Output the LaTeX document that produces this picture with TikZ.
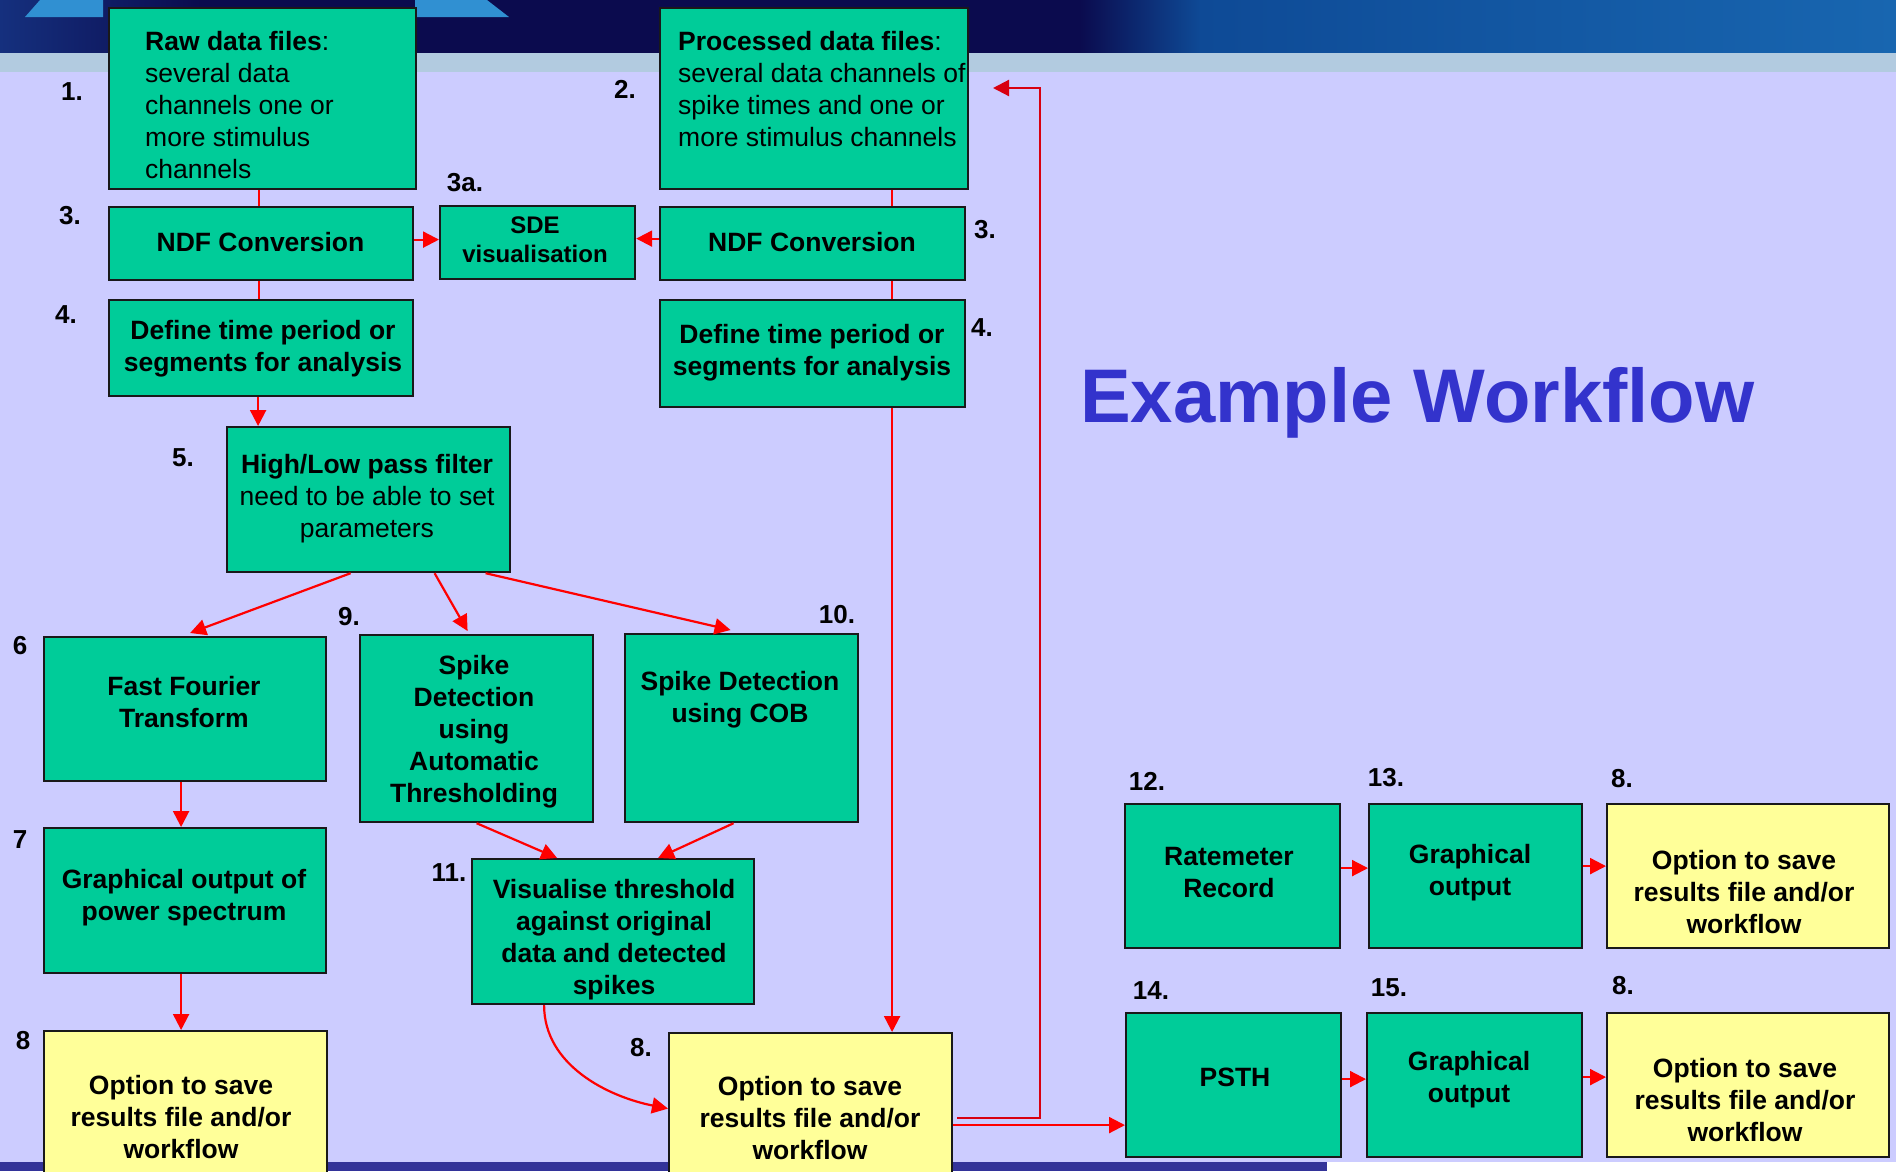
\documentclass[tikz,border=0pt]{standalone}
\usepackage{fontspec}
\setmainfont{Liberation Sans}
\usetikzlibrary{arrows.meta}
\definecolor{lav}{HTML}{CCCCFF}
\definecolor{boxgreen}{HTML}{00CC99}
\definecolor{boxyellow}{HTML}{FFFF99}
\definecolor{titleblue}{HTML}{3333CC}
\definecolor{bandblue}{HTML}{333399}
\definecolor{arrred}{HTML}{FF0000}
\definecolor{fbred}{HTML}{D80010}
\definecolor{banA}{HTML}{15307E}
\definecolor{banB}{HTML}{0B0B4E}
\definecolor{banC}{HTML}{0E4A96}
\definecolor{banD}{HTML}{1866B0}
\definecolor{banlight}{HTML}{B2CBE0}
\definecolor{deco}{HTML}{3090D2}
\begin{document}
\begin{tikzpicture}[x=1pt,y=-1pt,
  gbox/.style={draw=black!90, line width=2.2pt, fill=boxgreen, inner sep=0pt, anchor=north west},
  ybox/.style={gbox, fill=boxyellow},
  txt/.style={inner sep=0pt, align=center, font=\fontsize{26.5}{32}\selectfont},
  txtb/.style={txt, font=\fontsize{26.5}{32}\selectfont\bfseries},
  txtl/.style={inner sep=0pt, align=left, anchor=west, font=\fontsize{26.5}{32}\selectfont},
  lab/.style={inner sep=0pt, font=\fontsize{26}{30}\selectfont\bfseries},
  link/.style={draw=arrred, line width=2.2pt},
  arr/.style={link, -{Triangle[length=16pt,width=16pt]}},
]
% ---------- background ----------
\useasboundingbox (0,0) rectangle (1896,1171);
\fill[lav] (0,0) rectangle (1896,1171);
\shade[left color=banA, right color=banB] (0,0) rectangle (201,53);
\fill[banB] (200,0) rectangle (1081,53);
\shade[left color=banB, right color=banC] (1080,0) rectangle (1201,53);
\shade[left color=banC, right color=banD] (1200,0) rectangle (1896,53);
\fill[banlight] (0,53) rectangle (1896,72);
\fill[deco] (40,0) -- (103,0) -- (103,17) -- (25,17) -- cycle;
\fill[deco] (415,0) -- (487,0) -- (509,17) -- (415,17) -- cycle;
\fill[bandblue] (0,1162) rectangle (1327,1171);
\fill[white] (1327,1162) rectangle (1896,1171);

% ---------- boxes ----------
\node[gbox, minimum width=307, minimum height=181] (b1)   at (108,7) {};
\node[gbox, minimum width=308, minimum height=181] (b2)   at (659,7) {};
\node[gbox, minimum width=304, minimum height=73]  (ndf1) at (108,206) {};
\node[gbox, minimum width=195, minimum height=73]  (sde)  at (439,205) {};
\node[gbox, minimum width=305, minimum height=73]  (ndf2) at (659,206) {};
\node[gbox, minimum width=304, minimum height=96]  (def1) at (108,299) {};
\node[gbox, minimum width=305, minimum height=107] (def2) at (659,299) {};
\node[gbox, minimum width=283, minimum height=145] (hl)   at (226,426) {};
\node[gbox, minimum width=282, minimum height=144] (fft)  at (43,636) {};
\node[gbox, minimum width=233, minimum height=187] (spk)  at (359,634) {};
\node[gbox, minimum width=233, minimum height=188] (cob)  at (624,633) {};
\node[gbox, minimum width=282, minimum height=145] (gr7)  at (43,827) {};
\node[gbox, minimum width=282, minimum height=145] (vis)  at (471,858) {};
\node[ybox, minimum width=283, minimum height=165] (optL) at (43,1030) {};
\node[ybox, minimum width=283, minimum height=163] (optM) at (668,1032) {};
\node[gbox, minimum width=215, minimum height=144] (rate) at (1124,803) {};
\node[gbox, minimum width=213, minimum height=144] (gr13) at (1368,803) {};
\node[ybox, minimum width=282, minimum height=144] (optT) at (1606,803) {};
\node[gbox, minimum width=215, minimum height=144] (psth) at (1125,1012) {};
\node[gbox, minimum width=215, minimum height=144] (gr15) at (1366,1012) {};
\node[ybox, minimum width=282, minimum height=144] (optB) at (1606,1012) {};

% ---------- box texts ----------
\node[txtl] (t1) at (145,105) {\textbf{Raw data files}:\\several data\\channels one or\\more stimulus\\channels};
\node[txtl] (t2) at (678,89.5) {\textbf{Processed data files}:\\several data channels of\\spike times and one or\\more stimulus channels};
\node[txtb] (tn1) at (260.5,242) {NDF Conversion};
\node[txtb, font=\fontsize{24}{29}\selectfont\bfseries] (tsde) at (535,240) {SDE\\visualisation};
\node[txtb] (tn2) at (812,242) {NDF Conversion};
\node[txtb] (td1) at (263,349) {Define time period or\\segments for analysis};
\node[txtb] (td2) at (812,352.5) {Define time period or\\segments for analysis};
\node[txt] (thl) at (367,499) {\textbf{High/Low pass filter}\\need to be able to set\\parameters};
\node[txtb] (tfft) at (184,702.5) {Fast Fourier\\Transform};
\node[txtb] (tspk) at (474,731.5) {Spike\\Detection\\using\\Automatic\\Thresholding};
\node[txtb] (tcob) at (740,700) {Spike Detection\\using COB};
\node[txtb] (tgr7) at (184,898) {Graphical output of\\power spectrum};
\node[txtb] (tvis) at (614,940) {Visualise threshold\\against original\\data and detected\\spikes};
\node[txtb] (toptL) at (181,1117) {Option to save\\results file and/or\\workflow};
\node[txtb] (toptM) at (810,1118) {Option to save\\results file and/or\\workflow};
\node[txtb] (trate) at (1229,872.5) {Ratemeter\\Record};
\node[txtb] (tgr13) at (1470,873) {Graphical\\output};
\node[txtb] (toptT) at (1744,892) {Option to save\\results file and/or\\workflow};
\node[txtb] (tpsth) at (1235,1077) {PSTH};
\node[txtb] (tgr15) at (1469,1080) {Graphical\\output};
\node[txtb] (toptB) at (1745,1100) {Option to save\\results file and/or\\workflow};

% ---------- number labels ----------
\node[lab] (l1)   at (72,92)    {1.};
\node[lab] (l2)   at (625,89)   {2.};
\node[lab] (l3a)  at (70,216)   {3.};
\node[lab] (l3x)  at (465,183)  {3a.};
\node[lab] (l3b)  at (985,230)  {3.};
\node[lab] (l4a)  at (66,315)   {4.};
\node[lab] (l4b)  at (982,328)  {4.};
\node[lab] (l5)   at (183,458)  {5.};
\node[lab] (l6)   at (20,646)   {6};
\node[lab] (l7)   at (20,840)   {7};
\node[lab] (l9)   at (349,617)  {9.};
\node[lab] (l10)  at (837,615)  {10.};
\node[lab] (l11)  at (449,873)  {11.};
\node[lab] (l8a)  at (23,1041)  {8};
\node[lab] (l8b)  at (641,1048) {8.};
\node[lab] (l12)  at (1147,781) {12.};
\node[lab] (l13)  at (1386,778) {13.};
\node[lab] (l8c)  at (1622,779) {8.};
\node[lab] (l14)  at (1151,991) {14.};
\node[lab] (l15)  at (1389,988) {15.};
\node[lab] (l8d)  at (1623,986) {8.};

% ---------- title ----------
\node[anchor=base west, inner sep=0pt, text=titleblue, font=\fontsize{76}{80}\selectfont\bfseries] (title) at (1080,422) {Example Workflow};

% ---------- connectors ----------
\draw[link] ([xshift=-2pt]ndf1.north |- b1.south) -- ([xshift=-2pt]ndf1.north);
\draw[link] ([xshift=-2pt]ndf1.south) -- ([xshift=-2pt]def1.north);
\draw[arr]  ([xshift=-3pt]def1.south) -- ([xshift=-3pt]def1.south |- hl.north);
\draw[arr]  ([yshift=4pt]ndf1.east) -- ([yshift=4pt]ndf1.east -| sde.west);
\draw[arr]  ([yshift=5pt]ndf2.west) -- ([yshift=5pt]ndf2.west -| sde.east);
\draw[link] ([xshift=78pt]b2.south) -- ([xshift=78pt]b2.south |- ndf2.north);
\draw[link] ([xshift=79.5pt]ndf2.south) -- ([xshift=79.5pt]ndf2.south |- def2.north);
\draw[arr]  ([xshift=79.5pt]def2.south) -- ([xshift=79.5pt]def2.south |- optM.north);
\draw[arr]  ([xshift=-18pt]hl.south) -- ([xshift=5pt,yshift=3pt]fft.north);
\draw[arr]  ([xshift=66pt]hl.south) -- ([xshift=-9pt,yshift=3pt]spk.north);
\draw[arr]  ([xshift=117pt]hl.south) -- ([xshift=-11pt,yshift=3pt]cob.north);
\draw[arr]  ([xshift=-4pt]fft.south) -- ([xshift=-4pt]gr7.north);
\draw[arr]  ([xshift=-4pt]gr7.south) -- ([xshift=-4pt]gr7.south |- optL.north);
\draw[arr]  (spk.south) -- ([xshift=-56pt]vis.north);
\draw[arr]  ([xshift=-8pt]cob.south) -- ([xshift=45pt]vis.north);
\draw[arr]  ([xshift=-69pt]vis.south) .. controls +(0,60) and +(-60,-12) .. ([yshift=6pt]optM.west);
\coordinate (fbcorner) at (1040,88);
\coordinate (fbend) at (993,88);
\draw[link, draw=fbred, -{Triangle[length=16pt,width=16pt]}] ([yshift=-3.5pt,xshift=4pt]optM.east) -| (fbcorner) -- (fbend);
\draw[arr]  ([yshift=-10.5pt]optM.east) -- ([yshift=-10.5pt]optM.east -| psth.west);
\draw[arr]  ([yshift=8pt]rate.east) -- ([yshift=8pt]rate.east -| gr13.west);
\draw[arr]  ([yshift=10pt]gr13.east) -- ([yshift=10pt]gr13.east -| optT.west);
\draw[arr]  ([yshift=6pt]psth.east) -- ([yshift=6pt]psth.east -| gr15.west);
\draw[arr]  ([yshift=8pt]gr15.east) -- ([yshift=8pt]gr15.east -| optB.west);
\end{tikzpicture}
\end{document}
